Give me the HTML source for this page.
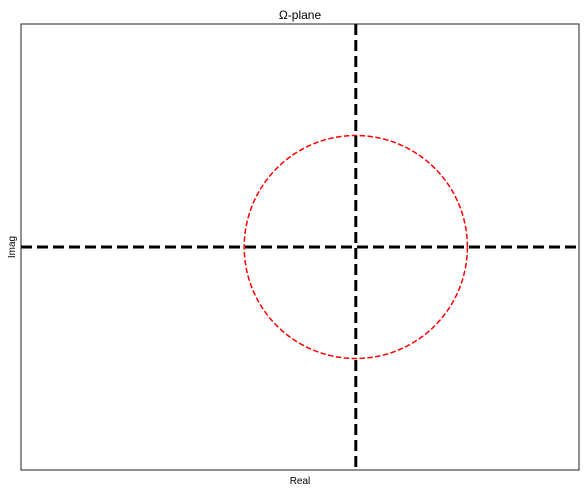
<!DOCTYPE html>
<html><head><meta charset="utf-8"><style>
html,body{margin:0;padding:0;background:#fff;}
svg{display:block;font-family:"Liberation Sans","DejaVu Sans",sans-serif;}
</style></head><body>
<svg id="chart" width="586" height="492">
<text x="300" y="19" text-anchor="middle" font-size="12">Ω-plane</text>
<text x="300" y="484" text-anchor="middle" font-size="10">Real</text>
<text transform="translate(15,247) rotate(-90)" text-anchor="middle" font-size="10">Imag</text>
<g id="plot"></g>
<rect x="21" y="24" width="558" height="446" fill="none" stroke="#222" stroke-width="1"/>
</svg>
<script>
const xDomain = [-3, 2];
const yDomain = [-2, 2];
const axisLinesX = [0];
const axisLinesY = [0];
const circleCenter = [0, 0];
const circleRadius = [1];
const L=21,R=579,T=24,B=470;
function sx(v){return L+(v-xDomain[0])/(xDomain[1]-xDomain[0])*(R-L);}
function sy(v){return B-(v-yDomain[0])/(yDomain[1]-yDomain[0])*(B-T);}
const NS="http://www.w3.org/2000/svg";
const g=document.getElementById('plot');
// circle
const n=200;let d='';
for(let i=0;i<=n;i++){const t=i/n*2*Math.PI;
const x=sx(circleCenter[0]+circleRadius[0]*Math.cos(t)), y=sy(circleCenter[1]+circleRadius[0]*Math.sin(t));
d+=(i?'L':'M')+x.toFixed(2)+' '+y.toFixed(2);}
const c=document.createElementNS(NS,'path');
c.setAttribute('d',d);c.setAttribute('fill','none');c.setAttribute('stroke','#ff0000');
c.setAttribute('stroke-width','1.5');c.setAttribute('stroke-dasharray','5.5 2.4');


g.appendChild(c);
axisLinesY.forEach(v=>{
const l=document.createElementNS(NS,'line');
l.setAttribute('x1',L);l.setAttribute('x2',R);l.setAttribute('y1',sy(v));l.setAttribute('y2',sy(v));
l.setAttribute('stroke','#000');l.setAttribute('stroke-width','3');l.setAttribute('stroke-dasharray','11 5');


g.appendChild(l);});
axisLinesX.forEach(v=>{
const l=document.createElementNS(NS,'line');
l.setAttribute('y1',T);l.setAttribute('y2',B);l.setAttribute('x1',sx(v));l.setAttribute('x2',sx(v));
l.setAttribute('stroke','#000');l.setAttribute('stroke-width','3');l.setAttribute('stroke-dasharray','11 5');


g.appendChild(l);});
</script>
</body></html>
